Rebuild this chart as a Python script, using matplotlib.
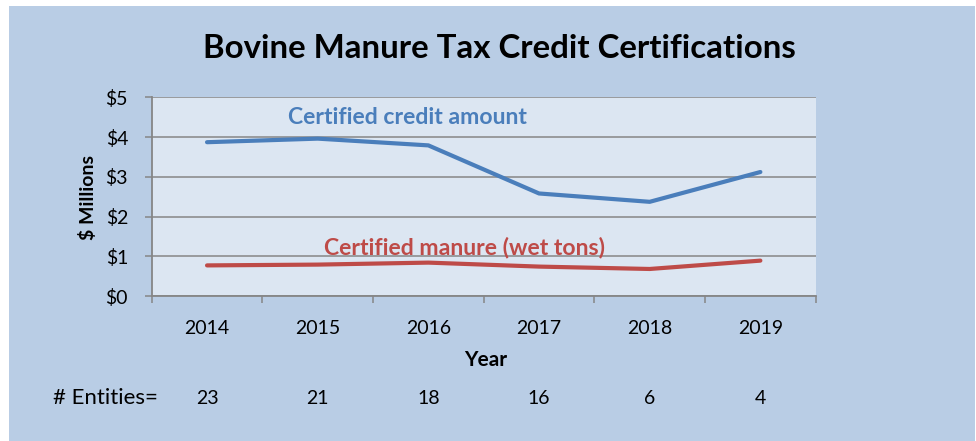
import numpy as np
import matplotlib
matplotlib.use('Agg')
import matplotlib.pyplot as plt
from matplotlib.patches import Rectangle
from matplotlib.transforms import blended_transform_factory

years = ["2014", "2015", "2016", "2017", "2018", "2019"]
credit_amount = [3.87, 3.96, 3.79, 2.58, 2.37, 3.12]   # $ millions
manure_tons = [0.77, 0.79, 0.84, 0.74, 0.68, 0.89]     # plotted on same scale
entities = [23, 21, 18, 16, 6, 4]
y_ticks = [0, 1, 2, 3, 4, 5]

BG = "#b9cde5"
PLOT_BG = "#dce6f2"
GRID = "#868686"
BLUE = "#4a7ebb"
RED = "#be4b48"

plt.rcParams['font.family'] = ['Lato', 'DejaVu Sans']

W, H = 976, 441
fig = plt.figure(figsize=(W / 100, H / 100), dpi=100)
fig.patch.set_facecolor("white")
fig.patches.append(Rectangle((9 / W, 0), (975 - 9) / W, (H - 6) / H,
	transform=fig.transFigure, facecolor=BG, edgecolor="none", zorder=-10))

def px(x0, y0, x1, y1):
	# pixel box (top-left origin) -> figure fraction [l, b, w, h]
	return [x0 / W, 1 - y1 / H, (x1 - x0) / W, (y1 - y0) / H]

ax = fig.add_axes(px(151.7, 97.3, 815.7, 296))
ax.set_facecolor(PLOT_BG)

x = np.arange(len(years))
ax.plot(x, credit_amount, color=BLUE, lw=3, solid_capstyle="round", zorder=3)
ax.plot(x, manure_tons, color=RED, lw=3, solid_capstyle="round", zorder=3)

ax.set_xlim(-0.5, len(years) - 0.5)
ax.set_ylim(0, 5)
ax.set_yticks(y_ticks)
ax.set_yticklabels(["$%d" % v for v in y_ticks])
ax.yaxis.grid(True, color=GRID, lw=1.1)
ax.set_axisbelow(True)

ax.set_xticks(x)
ax.set_xticklabels(years)
ax.set_xticks(np.arange(-0.5, len(years)), minor=True)
ax.tick_params(axis="x", which="major", length=0, pad=17, labelsize=14)
ax.tick_params(axis="x", which="minor", length=5, width=1.1, color=GRID, direction="out")
ax.tick_params(axis="y", length=5, width=1.1, color=GRID, pad=12, labelsize=14)

for s in ["top", "right"]:
	ax.spines[s].set_visible(False)
for s in ["left", "bottom"]:
	ax.spines[s].set_color(GRID)
	ax.spines[s].set_linewidth(1.3)

ax.text(1.81, 4.49, "Certified credit amount", color=BLUE, fontsize=16.6,
	fontweight="bold", ha="center", va="center")
ax.text(2.33, 1.23, "Certified manure (wet tons)", color=RED, fontsize=16.6,
	fontweight="bold", ha="center", va="center")

fig.text(499 / W, 1 - 48 / H, "Bovine Manure Tax Credit Certifications",
	fontsize=23.8, fontweight="bold", ha="center", va="center")
fig.text(88 / W, 1 - 197 / H, "$ Millions", fontsize=14, fontweight="bold",
	rotation=90, ha="center", va="center")
fig.text(486 / W, 1 - 360 / H, "Year", fontsize=15, fontweight="bold",
	ha="center", va="center")

# entity counts under each year
tr = blended_transform_factory(ax.transData, fig.transFigure)
fig.text(53 / W, 1 - 398 / H, "# Entities=", fontsize=16, ha="left", va="center")
for xi, n in zip(x, entities):
	ax.text(xi, 1 - 398 / H, str(n), transform=tr, fontsize=14,
		ha="center", va="center", clip_on=False)

fig.savefig("out.png", dpi=100)
